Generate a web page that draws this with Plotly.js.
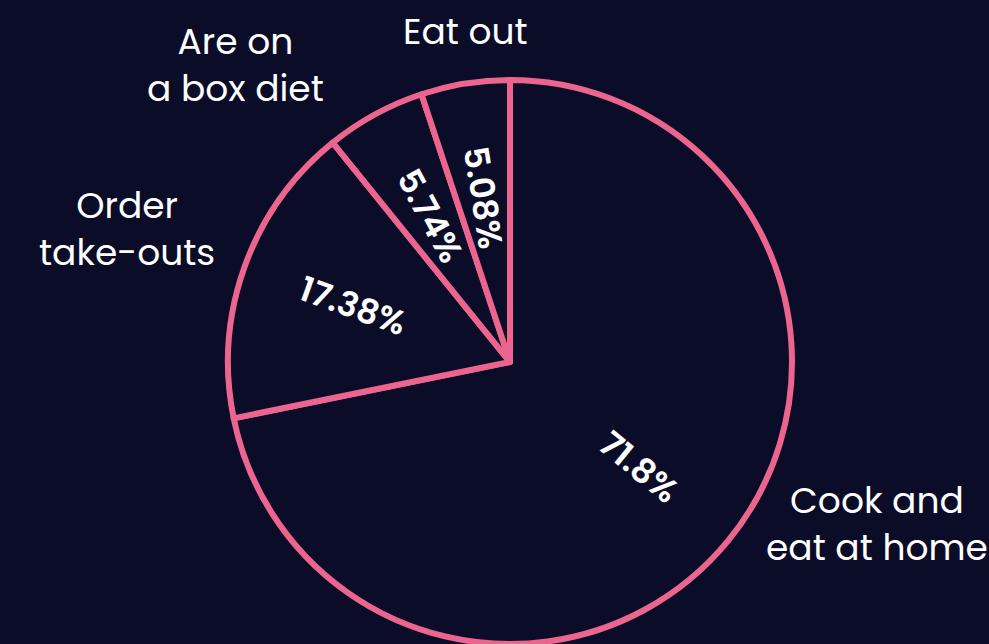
<!DOCTYPE html>
<html>
<head>
<meta charset="utf-8">
<script src="https://cdn.plot.ly/plotly-3.0.1.min.js"></script>
<style>html,body{margin:0;padding:0;background:#0b0c28;}#chart{width:989px;height:644px;}</style>
</head>
<body>
<div id="chart"></div>
<script>
const categories = ["Cook and<br>eat at home", "Order<br>take-outs", "Are on<br>a box diet", "Eat out"];
const values = [71.8, 17.38, 5.74, 5.08];

const bg = "#0b0c28";
const pink = "#ec658f";
const fontFamily = "Poppins, 'Open Sans', Lato, sans-serif";

const W = 989, H = 644;
const M = {l: 31, r: 0, t: 80, b: 0};
const plotW = W - M.l - M.r, plotH = H - M.t - M.b;
const R = Math.min(plotW, plotH) / 2;
const total = values.reduce((a, b) => a + b, 0);

// Labels placed from the slice angles computed from the data
const annotations = [];
let cum = 0;
values.forEach((v, i) => {
  const mid = (cum + v / 2) / total * 360;
  cum += v;
  const rad = mid * Math.PI / 180;
  const s = Math.sin(rad), c = Math.cos(rad);
  // inside radial percentage
  const ri = 0.59 * R;
  let ang = mid - 90;
  if (ang > 90 && ang < 270) ang -= 180;
  annotations.push({
    xref: "paper", yref: "paper",
    x: 0.5 + ri * s / plotW, y: 0.5 + ri * c / plotH,
    text: v + "%", textangle: ang, showarrow: false,
    xanchor: "center", yanchor: "middle",
    font: {color: "#ffffff", size: 34, family: fontFamily, weight: 600}
  });
  // outside category label
  const side = Math.abs(s) < 0.3 ? "center" : (s > 0 ? "left" : "right");
  const gap = 25 + 45 * (1 - Math.abs(s));
  annotations.push({
    xref: "paper", yref: "paper",
    x: 0.5 + R * s / plotW, y: 0.5 + R * c / plotH,
    text: categories[i], showarrow: false, align: "center",
    xanchor: side, yanchor: "middle",
    xshift: side === "center" ? 0 : (s > 0 ? gap : -gap),
    yshift: 30 + 22 * c,
    font: {color: "#ffffff", size: 36, family: fontFamily}
  });
});

const pie = {
  type: "pie",
  labels: categories,
  values: values,
  sort: false,
  direction: "clockwise",
  rotation: 0,
  textinfo: "none",
  marker: {colors: [bg, bg, bg, bg], line: {color: pink, width: 6}},
  hoverinfo: "skip",
  showlegend: false
};

Plotly.newPlot("chart", [pie], {
  width: W, height: H,
  paper_bgcolor: bg, plot_bgcolor: bg,
  margin: M,
  showlegend: false,
  font: {family: fontFamily, color: "#ffffff"},
  annotations: annotations
}, {displayModeBar: false, staticPlot: true});
</script>
</body>
</html>
